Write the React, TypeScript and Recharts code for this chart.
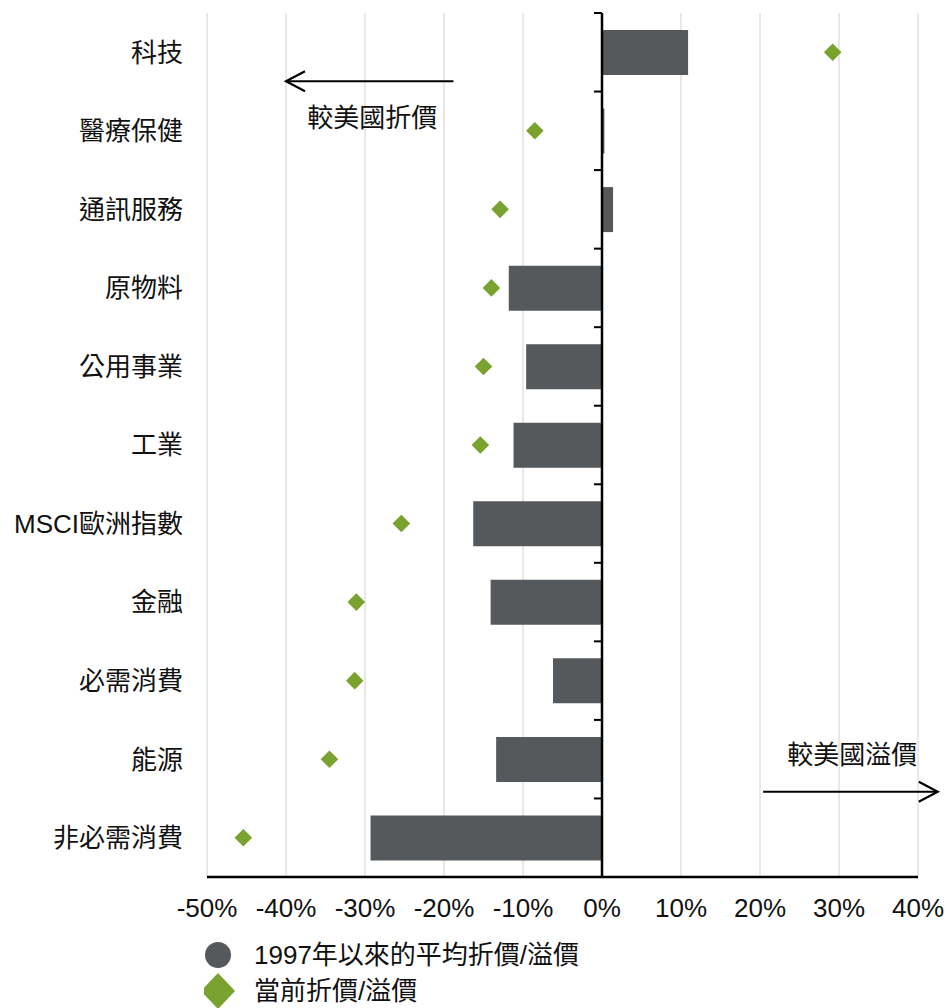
import React from "react";
import {
  ComposedChart,
  Bar,
  Scatter,
  XAxis,
  YAxis,
  CartesianGrid,
  ReferenceLine,
  ReferenceDot,
  Legend,
} from "recharts";

const sectors = [
  "科技",
  "醫療保健",
  "通訊服務",
  "原物料",
  "公用事業",
  "工業",
  "MSCI歐洲指數",
  "金融",
  "必需消費",
  "能源",
  "非必需消費",
];

// 1997年以來的平均折價/溢價 (%)
const avgSince1997 = [10.9, 0.3, 1.4, -11.8, -9.6, -11.2, -16.3, -14.1, -6.2, -13.4, -29.3];

// 當前折價/溢價 (%)
const currentPremium = [29.2, -8.5, -12.9, -14.0, -15.0, -15.4, -25.4, -31.1, -31.3, -34.5, -45.4];

const xTicks = [-50, -40, -30, -20, -10, 0, 10, 20, 30, 40];
const seriesNames = ["1997年以來的平均折價/溢價", "當前折價/溢價"];
const discountNote = "較美國折價";
const premiumNote = "較美國溢價";

const data = sectors.map((name, i) => ({
  name,
  avg: avgSince1997[i],
  current: currentPremium[i],
}));

const FONT = '"Liberation Sans", Arial, "Noto Sans CJK TC", sans-serif';
const BAR_COLOR = "#56595c";
const DIAMOND_COLOR = "#79a22f";

const Diamond = ({ cx, cy }: any) => {
  const r = 8.8;
  return (
    <polygon
      points={`${cx},${cy - r} ${cx + r},${cy} ${cx},${cy + r} ${cx - r},${cy}`}
      fill={DIAMOND_COLOR}
    />
  );
};

// vertical line at 0% with small ticks between sectors
const ZeroAxis = ({ x1, y1, x2, y2 }: any) => {
  const n = sectors.length;
  const top = Math.min(y1, y2);
  const step = Math.abs(y2 - y1) / n;
  return (
    <g>
      <line x1={x1} y1={y1} x2={x2} y2={y2} stroke="#000" strokeWidth={2.5} />
      {Array.from({ length: n + 1 }, (_, i) => (
        <line
          key={i}
          x1={x1 - 8}
          x2={x1}
          y1={top + i * step}
          y2={top + i * step}
          stroke="#000"
          strokeWidth={2}
        />
      ))}
    </g>
  );
};

// arrow drawn a little above/below the band centre of the category it is tied to
const arrowShape = (dy: number) => ({ x1, y1, x2 }: any) => {
  const y = y1 + dy;
  const dir = x2 > x1 ? -1 : 1;
  return (
    <g stroke="#000" strokeWidth={2.2} fill="none">
      <line x1={x1} y1={y} x2={x2} y2={y} />
      <polyline points={`${x2 + dir * 19},${y - 10} ${x2},${y} ${x2 + dir * 19},${y + 10}`} />
    </g>
  );
};

const noteShape = (text: string, anchor: "start" | "end", dy: number) => ({ cx, cy }: any) => (
  <text
    x={cx}
    y={cy + dy}
    dy="0.36em"
    textAnchor={anchor}
    fontSize={26}
    fontFamily={FONT}
    fill="#111"
  >
    {text}
  </text>
);

const CategoryTick = ({ x, y, payload }: any) => (
  <text
    x={x - 16}
    y={y}
    dy="0.36em"
    textAnchor="end"
    fontSize={26}
    fontFamily={FONT}
    fill="#111"
  >
    {payload.value}
  </text>
);

const PercentTick = ({ x, y, payload }: any) => (
  <text x={x} y={y + 32} textAnchor="middle" fontSize={26} fontFamily={FONT} fill="#111">
    {`${payload.value}%`}
  </text>
);

const LegendContent = () => (
  <div
    style={{
      boxSizing: "border-box",
      paddingLeft: 204,
      paddingTop: 1,
      height: 72,
      fontFamily: FONT,
      fontSize: 26,
      color: "#111",
    }}
  >
    <div style={{ display: "flex", alignItems: "center", height: 36 }}>
      <svg width={36} height={36}>
        <circle cx={14} cy={18} r={13} fill={BAR_COLOR} />
      </svg>
      <span style={{ marginLeft: 14, lineHeight: "36px" }}>{seriesNames[0]}</span>
    </div>
    <div style={{ display: "flex", alignItems: "center", height: 35 }}>
      <svg width={36} height={36}>
        <polygon points="14,0 31,18 14,36 -3,18" fill={DIAMOND_COLOR} />
      </svg>
      <span style={{ marginLeft: 14, lineHeight: "36px" }}>{seriesNames[1]}</span>
    </div>
  </div>
);

export default function App() {
  return (
    <div style={{ position: "absolute", left: 0, top: 0, width: 947, height: 1008, background: "#fff" }}>
      <ComposedChart
        width={947}
        height={1008}
        data={data}
        layout="vertical"
        margin={{ top: 13, right: 29, bottom: 0, left: 0 }}
      >
        <CartesianGrid horizontal={false} stroke="#d9d9d9" strokeWidth={1.2} />
        <XAxis
          type="number"
          domain={[-50, 40]}
          ticks={xTicks}
          interval={0}
          height={59}
          tickLine={false}
          axisLine={{ stroke: "#000", strokeWidth: 2.5 }}
          tick={<PercentTick />}
        />
        <YAxis
          type="category"
          dataKey="name"
          width={207}
          axisLine={false}
          tickLine={false}
          interval={0}
          tick={<CategoryTick />}
        />
        <Bar dataKey="avg" name={seriesNames[0]} fill={BAR_COLOR} barSize={45} isAnimationActive={false} />
        <Scatter
          dataKey="current"
          name={seriesNames[1]}
          fill={DIAMOND_COLOR}
          shape={<Diamond />}
          isAnimationActive={false}
        />
        <ReferenceLine x={0} shape={<ZeroAxis />} />
        <ReferenceLine
          segment={[
            { x: -18.8, y: sectors[0] },
            { x: -40, y: sectors[0] },
          ]}
          ifOverflow="visible"
          shape={arrowShape(29)}
        />
        <ReferenceLine
          segment={[
            { x: 20.4, y: sectors[10] },
            { x: 42.5, y: sectors[10] },
          ]}
          ifOverflow="visible"
          shape={arrowShape(-46)}
        />
        <ReferenceDot x={-37.3} y={sectors[1]} ifOverflow="visible" shape={noteShape(discountNote, "start", -13)} />
        <ReferenceDot x={39.9} y={sectors[9]} ifOverflow="visible" shape={noteShape(premiumNote, "end", -5)} />
        <Legend verticalAlign="bottom" align="left" content={<LegendContent />} />
      </ComposedChart>
    </div>
  );
}
